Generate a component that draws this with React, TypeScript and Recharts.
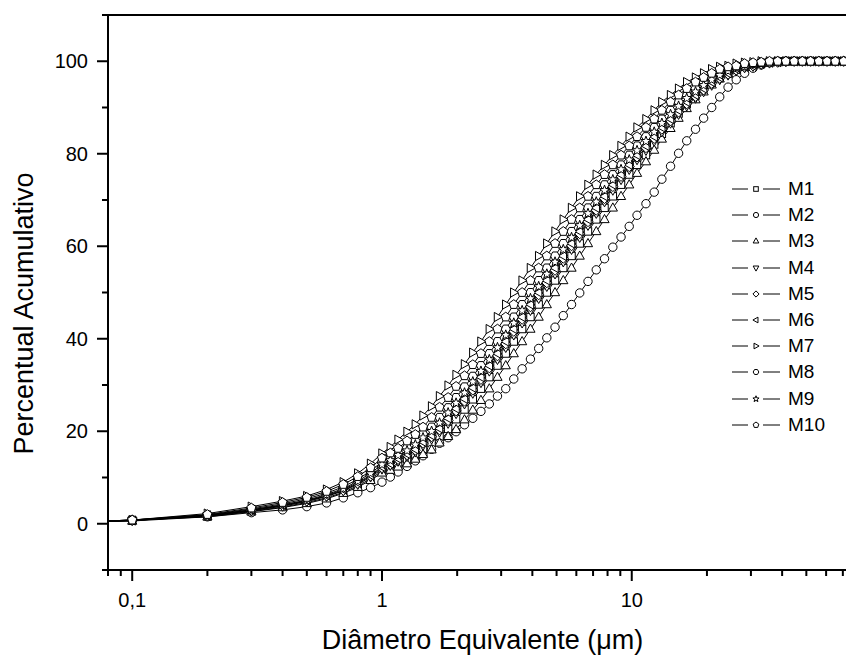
import { LineChart, Line, XAxis, YAxis, ReferenceLine, Legend } from 'recharts';

// particle diameters (µm)
const diameters = [
  0.07, 0.1, 0.2, 0.3, 0.4, 0.5, 0.6, 0.7, 0.8, 0.9,
  1, 1.08, 1.16, 1.26, 1.36, 1.46, 1.58, 1.7, 1.84, 1.98,
  2.14, 2.31, 2.49, 2.69, 2.9, 3.13, 3.37, 3.64, 3.93, 4.24,
  4.57, 4.93, 5.32, 5.74, 6.19, 6.68, 7.21, 7.78, 8.4, 9.06,
  9.77, 10.5, 11.4, 12.3, 13.2, 14.3, 15.4, 16.6, 18, 19.4,
  20.9, 22.5, 24.3, 26.2, 28.3, 30.6, 33, 35.6, 38.4, 41.4,
  44.7, 48.2, 52, 56.1, 60.5, 65.3, 70.5,
];

// cumulative percent per sample
const m1 = [
  0.4, 0.7, 1.6, 2.7, 3.6, 4.6, 5.6, 6.8, 8.2, 9.7,
  11.4, 12.1, 12.9, 13.9, 14.9, 16.0, 17.5, 18.9, 20.5, 22.6, 24.7, 26.9, 29.2,
  31.7, 34.2, 36.8, 39.4, 42.1, 44.7, 47.4, 50, 52.6, 55.3, 57.9, 60.6, 63.2, 65.8, 68.3, 70.8, 73.3, 75.5, 77.6, 79.7,
  82, 84.3, 86.6, 88.7, 90.7, 92.6, 94.2, 95.6, 96.8, 97.7, 98.4, 98.9, 99.3, 99.6, 99.8,
  100, 100, 100, 100, 100, 100, 100, 100, 100,
];
const m2 = [
  0.5, 0.8, 1.5, 2.4, 3.0, 3.7, 4.5, 5.6, 6.7, 7.8,
  9.0, 10.1, 11.2, 12.4, 13.6, 14.7, 16.1, 17.4, 18.6, 19.9, 21.4, 22.8, 24.3,
  25.9, 27.6, 29.2, 31.3, 33.5, 35.6, 37.9, 40.2, 42.5, 45.0, 47.4, 49.9, 52.4, 54.9, 57.3, 59.8, 62.0, 64.3, 66.7, 69.2,
  71.7, 74.5, 77.3, 80.1, 82.8, 85.3, 87.7, 90.0, 92.3, 94.4, 96.0, 97.4, 98.5, 99.2, 99.7, 99.9,
  100, 100, 100, 100, 100, 100, 100, 100,
];
const m3 = [
  0.4, 0.6, 1.5, 2.6, 3.5, 4.4, 5.4, 6.6, 7.9, 9.4,
  11.0, 11.6, 12.3, 13.0, 14.0, 15.0, 16.0, 17.5, 18.9, 20.4, 22.5, 24.6, 26.7,
  29.2, 31.7, 34.2, 36.8, 39.4, 42.1, 44.7, 47.4, 50, 52.6, 55.3, 57.9, 60.6, 63.2, 65.8, 68.3, 70.8, 73.3,
  75.8, 78.3, 80.8, 83.2, 85.5, 87.7, 89.8, 91.7, 93.4, 94.9, 96.2, 97.3, 98.1, 98.8, 99.2, 99.5, 99.7, 99.9,
  100, 100, 100, 100, 100, 100, 100, 100,
];
const m4 = [
  0.4, 0.7, 1.7, 2.8, 3.8, 4.8, 5.9, 7.1, 8.5, 10.1,
  11.8, 12.6, 13.5, 14.5, 15.5, 16.9, 18.3, 19.8, 21.7, 23.8, 25.9, 28.2, 30.5,
  33.0, 35.5, 38.1, 40.8, 43.4, 46.1, 48.7, 51.3, 54.0, 56.6, 59.3, 61.9, 64.5, 67.1, 69.6, 72.1, 74.4, 76.6, 78.7, 80.7,
  82.7, 84.7, 86.6, 88.5, 90.3, 92.0, 93.4, 94.8, 96.0, 97.0, 97.9, 98.6, 98.9, 99.3, 99.6, 99.8, 99.9,
  100, 100, 100, 100, 100, 100, 100,
];
const m5 = [
  0.4, 0.7, 1.7, 2.9, 3.9, 4.9, 6.0, 7.2, 8.7, 10.3,
  12.1, 12.8, 13.9, 14.9, 15.9, 17.4, 18.8, 20.3, 22.3, 24.4, 26.5, 28.9, 31.2,
  33.7, 36.3, 38.9, 41.6, 44.2, 46.9, 49.5, 52.1, 54.8, 57.4, 60.1, 62.7, 65.3, 67.8, 70.3, 72.9, 75.1, 77.2, 79.3, 81.3,
  83.3, 85.3, 87.1, 89.0, 90.8, 92.4, 93.8, 95.2, 96.3, 97.2, 98.1, 98.7, 99.0, 99.4, 99.7, 99.8,
  100, 100, 100, 100, 100, 100, 100, 100,
];
const m6 = [
  0.4, 0.7, 1.8, 3.0, 4.0, 5.0, 6.1, 7.4, 8.9, 10.5,
  12.3, 13.0, 14.1, 15.1, 16.1, 17.7, 19.1, 20.6, 22.8, 24.9, 27.0, 29.4, 31.7,
  34.2, 36.8, 39.4, 42.1, 44.7, 47.4, 50, 52.6, 55.3, 57.9, 60.6, 63.2, 65.8, 68.3, 70.8, 73.3, 75.5, 77.6, 79.7, 81.7,
  83.7, 85.7, 87.5, 89.4, 91.2, 92.7, 94.1, 95.5, 96.5, 97.4, 98.3, 98.8, 99.0, 99.5, 99.7, 99.8,
  100, 100, 100, 100, 100, 100, 100, 100,
];
const m7 = [
  0.5, 0.8, 2.2, 3.7, 4.9, 6.0, 7.4, 9.0, 10.9, 13.0,
  15.2, 16.6, 18.2, 19.9, 21.5, 23.4, 25.4, 27.6, 29.9, 32.2, 34.5, 37.0, 39.4,
  42.1, 44.7, 47.4, 50, 52.6, 55.3, 57.9, 60.6, 63.2, 65.8, 68.3, 70.8, 73.3, 75.5, 77.6, 79.7, 81.7, 83.7, 85.7, 87.5,
  89.4, 91.2, 92.7, 94.1, 95.5, 96.5, 97.4, 98.3, 98.8, 99.0, 99.5, 99.7, 99.8,
  100, 100, 100, 100, 100, 100, 100, 100, 100, 100, 100,
];
const m8 = [
  0.5, 0.8, 1.9, 3.2, 4.3, 5.4, 6.6, 8.0, 9.6, 11.4,
  13.4, 14.4, 15.4, 16.5, 18.0, 19.4, 20.9, 23.0, 25.1, 27.3, 29.6, 31.9, 34.2,
  36.8, 39.4, 42.1, 44.7, 47.4, 50, 52.6, 55.3, 57.9, 60.6, 63.2, 65.8, 68.3, 70.8, 73.3, 75.5, 77.6, 79.7, 81.7, 83.7,
  85.7, 87.5, 89.4, 91.2, 92.7, 94.1, 95.5, 96.5, 97.4, 98.3, 98.8, 99.0, 99.5, 99.7, 99.8,
  100, 100, 100, 100, 100, 100, 100, 100, 100,
];
const m9 = [
  0.5, 0.8, 1.8, 3.0, 4.1, 5.1, 6.3, 7.6, 9.2, 10.9,
  12.8, 13.7, 14.8, 15.8, 17.1, 18.6, 20.0, 21.8, 24.0, 26.1, 28.3, 30.7, 33.0,
  35.5, 38.1, 40.8, 43.4, 46.1, 48.7, 51.3, 54.0, 56.6, 59.3, 61.9, 64.5, 67.1, 69.6, 72.1, 74.4, 76.6, 78.7, 80.7, 82.7,
  84.7, 86.6, 88.5, 90.3, 92.0, 93.4, 94.8, 96.0, 97.0, 97.9, 98.6, 98.9, 99.3, 99.6, 99.8, 99.9,
  100, 100, 100, 100, 100, 100, 100, 100,
];
const m10 = [
  0.5, 0.8, 2.0, 3.4, 4.6, 5.7, 7.0, 8.5, 10.2, 12.1,
  14.2, 15.3, 16.3, 17.9, 19.3, 20.9, 23.0, 25.2, 27.3, 29.7, 32.0, 34.4, 36.8,
  39.4, 42.1, 44.7, 47.4, 50, 52.6, 55.3, 57.9, 60.6, 63.2, 65.8, 68.3, 70.8, 73.3, 75.5, 77.6, 79.7, 81.7, 83.7, 85.7,
  87.5, 89.4, 91.2, 92.7, 94.1, 95.5, 96.5, 97.4, 98.3, 98.8, 99.0, 99.5, 99.7, 99.8,
  100, 100, 100, 100, 100, 100, 100, 100, 100, 100,
];

const seriesNames = ['M1', 'M2', 'M3', 'M4', 'M5', 'M6', 'M7', 'M8', 'M9', 'M10'];
const seriesValues = [m1, m2, m3, m4, m5, m6, m7, m8, m9, m10];
const markerShapes = [
  'square', 'circle', 'triUp', 'triDown', 'diamond',
  'triLeft', 'triRight', 'hexagon', 'star', 'pentagon',
];

const xTicks = [
  0.08, 0.09, 0.1, 0.2, 0.3, 0.4, 0.5, 0.6, 0.7, 0.8, 0.9,
  1, 2, 3, 4, 5, 6, 7, 8, 9, 10, 20, 30, 40, 50, 60, 70, 80,
];
const xTickLabels: Record<string, string> = { '0.1': '0,1', '1': '1', '10': '10' };
const yTicks = [-10, 0, 10, 20, 30, 40, 50, 60, 70, 80, 90, 100, 110];

const rows = diameters.map((d, i) => {
  const row: Record<string, number> = { d };
  seriesNames.forEach((name, j) => {
    row[name] = seriesValues[j][i];
  });
  return row;
});

const FONT = '"Liberation Sans", Arial, Helvetica, sans-serif';

function regular(n: number, r: number, cx: number, cy: number, start = -Math.PI / 2) {
  const pts: string[] = [];
  for (let k = 0; k < n; k++) {
    const a = start + (k * 2 * Math.PI) / n;
    pts.push(`${cx + r * Math.cos(a)},${cy + r * Math.sin(a)}`);
  }
  return pts.join(' ');
}

function starPoints(r: number, cx: number, cy: number) {
  const pts: string[] = [];
  for (let k = 0; k < 10; k++) {
    const a = -Math.PI / 2 + (k * Math.PI) / 5;
    const rr = k % 2 === 0 ? r : r * 0.42;
    pts.push(`${cx + rr * Math.cos(a)},${cy + rr * Math.sin(a)}`);
  }
  return pts.join(' ');
}

function rel(list: number[][], cx: number, cy: number, s: number) {
  return list.map(([px, py]) => `${cx + px * s},${cy + py * s}`).join(' ');
}

function Marker({ shape, cx, cy, s = 1 }: { shape: string; cx: number; cy: number; s?: number }) {
  const st = { fill: '#fff', stroke: '#000', strokeWidth: 1 };
  switch (shape) {
    case 'square':
      return <rect x={cx - 3.7 * s} y={cy - 3.7 * s} width={7.4 * s} height={7.4 * s} {...st} />;
    case 'circle':
      return <circle cx={cx} cy={cy} r={4.2 * s} {...st} />;
    case 'triUp':
      return <polygon points={rel([[0, -5], [4.6, 3.2], [-4.6, 3.2]], cx, cy, s)} {...st} />;
    case 'triDown':
      return <polygon points={rel([[0, 5], [4.6, -3.2], [-4.6, -3.2]], cx, cy, s)} {...st} />;
    case 'diamond':
      return <polygon points={rel([[0, -5], [5, 0], [0, 5], [-5, 0]], cx, cy, s)} {...st} />;
    case 'triLeft':
      return <polygon points={rel([[-5, 0], [3.2, -4.6], [3.2, 4.6]], cx, cy, s)} {...st} />;
    case 'triRight':
      return <polygon points={rel([[5, 0], [-3.2, -4.6], [-3.2, 4.6]], cx, cy, s)} {...st} />;
    case 'hexagon':
      return <polygon points={regular(6, 4.6 * s, cx, cy, 0)} {...st} />;
    case 'star':
      return <polygon points={starPoints(5.2 * s, cx, cy)} {...st} />;
    default:
      return <polygon points={regular(5, 4.8 * s, cx, cy)} {...st} />;
  }
}

function XTick(props: any) {
  const { x, y, payload } = props;
  const label = xTickLabels[String(payload.value)];
  return (
    <g>
      <line x1={x} x2={x} y1={y} y2={y + (label ? 11 : 6)} stroke="#000" strokeWidth={2} />
      {label && (
        <text x={x} y={y + 37} textAnchor="middle" fontSize={20} fontFamily={FONT} fill="#000">
          {label}
        </text>
      )}
    </g>
  );
}

function YTick(props: any) {
  const { x, y, payload } = props;
  const major = payload.value % 20 === 0 && payload.value >= 0 && payload.value <= 100;
  return (
    <g>
      <line x1={x - (major ? 11 : 6)} x2={x} y1={y} y2={y} stroke="#000" strokeWidth={2} />
      {major && (
        <text x={x - 20} y={y + 7} textAnchor="end" fontSize={20} fontFamily={FONT} fill="#000">
          {payload.value}
        </text>
      )}
    </g>
  );
}

function SampleLegend(props: any) {
  const payload: any[] = props.payload || [];
  const names = payload.length
    ? [...payload].sort((a, b) => seriesNames.indexOf(a.value) - seriesNames.indexOf(b.value)).map((p) => p.value)
    : seriesNames;
  return (
    <div style={{ fontFamily: FONT }}>
      {names.map((name: string) => (
        <div key={name} style={{ display: 'flex', alignItems: 'center', height: 26.2 }}>
          <svg width={52} height={16}>
            <line x1={2} x2={18} y1={8} y2={8} stroke="#000" strokeWidth={1} />
            <line x1={33} x2={50} y1={8} y2={8} stroke="#000" strokeWidth={1} />
            <Marker shape={markerShapes[seriesNames.indexOf(name)]} cx={26} cy={8} s={0.62} />
          </svg>
          <span style={{ marginLeft: 6, fontSize: 19, color: '#000', lineHeight: '20px' }}>{name}</span>
        </div>
      ))}
    </div>
  );
}

export default function App() {
  return (
    <div style={{ position: 'absolute', left: 0, top: 0, width: 846, height: 655, overflow: 'hidden', background: '#fff' }}>
      <LineChart width={870} height={655} data={rows} margin={{ top: 15, right: 10, bottom: 0, left: 0 }}>
        <XAxis
          dataKey="d"
          type="number"
          scale="log"
          domain={[0.08, 82]}
          allowDataOverflow
          ticks={xTicks}
          interval={0}
          height={85}
          tickSize={0}
          tickMargin={0}
          tickLine={false}
          tick={<XTick />}
          axisLine={{ stroke: '#000', strokeWidth: 2 }}
          label={{
            content: (p: any) => {
              const vb = p.viewBox || { x: 108, width: 752 };
              return (
                <text x={vb.x + vb.width / 2 - 1.5} y={649} textAnchor="middle" fontSize={27} fontFamily={FONT} fill="#000">
                  Diâmetro Equivalente (μm)
                </text>
              );
            },
          }}
        />
        <YAxis
          type="number"
          domain={[-10, 110]}
          ticks={yTicks}
          interval={0}
          width={108}
          tickSize={0}
          tickMargin={0}
          tickLine={false}
          tick={<YTick />}
          axisLine={{ stroke: '#000', strokeWidth: 2 }}
          label={{
            content: () => (
              <text
                x={33}
                y={313.5}
                transform="rotate(-90, 33, 313.5)"
                textAnchor="middle"
                fontSize={27}
                fontFamily={FONT}
                fill="#000"
              >
                Percentual Acumulativo
              </text>
            ),
          }}
        />
        <ReferenceLine y={110} stroke="#000" strokeWidth={2} />
        <Legend
          layout="vertical"
          align="center"
          verticalAlign="middle"
          content={<SampleLegend />}
          wrapperStyle={{ left: 730, top: 176, width: 110 }}
        />
        {seriesNames.map((name, j) => (
          <Line
            key={name}
            dataKey={name}
            name={name}
            type="linear"
            stroke="#000"
            strokeWidth={1}
            isAnimationActive={false}
            activeDot={false}
            dot={(p: any) => (
              <Marker key={`${name}-${p.index}`} shape={markerShapes[j]} cx={p.cx} cy={p.cy} />
            )}
          />
        ))}
      </LineChart>
    </div>
  );
}
